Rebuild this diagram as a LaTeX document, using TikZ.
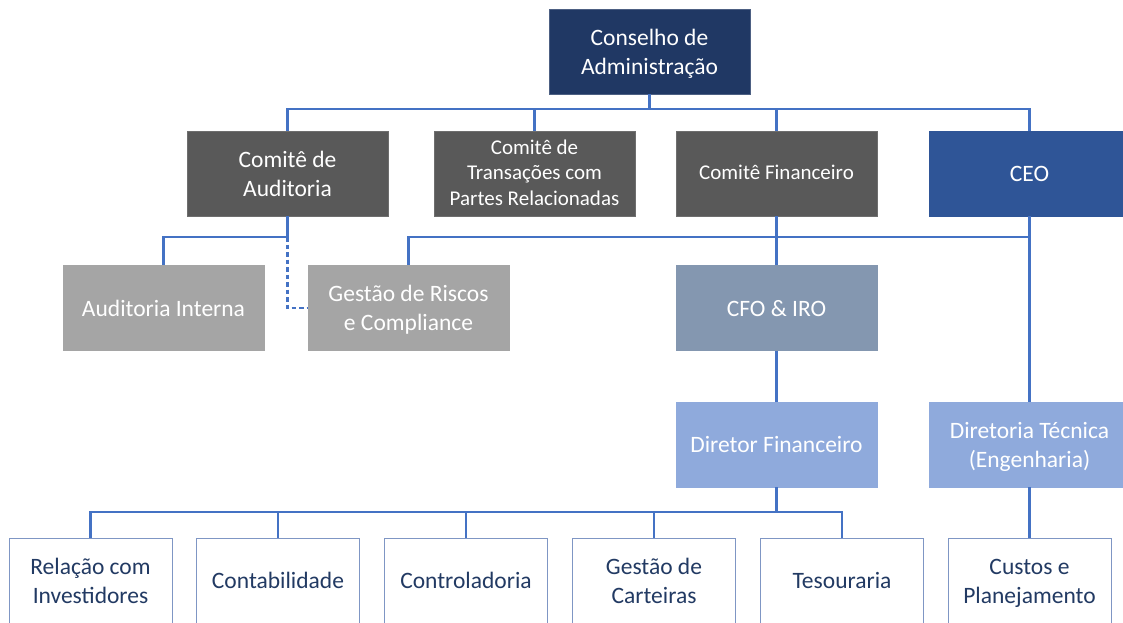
\documentclass[tikz,border=0pt]{standalone}
\usepackage{fontspec}
\setmainfont{Carlito}
\definecolor{cnavy}{HTML}{203864}
\definecolor{cgray}{HTML}{595959}
\definecolor{cgrayb}{HTML}{6E6E6E}
\definecolor{cceo}{HTML}{2F5597}
\definecolor{clight}{HTML}{A5A5A5}
\definecolor{ccfo}{HTML}{8497B0}
\definecolor{cdir}{HTML}{8FAADC}
\definecolor{cline}{HTML}{4472C4}
\definecolor{cbord}{HTML}{7F96C4}
\definecolor{ctext}{HTML}{223A63}
\newcommand{\bigf}{\fontsize{23.5}{29}\selectfont}
\newcommand{\smallf}{\fontsize{21}{25.5}\selectfont}
\newcommand{\tx}[2][-2.5pt]{\raisebox{#1}[\height][\depth]{\begin{tabular}{@{}c@{}}#2\end{tabular}}}
\tikzset{
  box/.style={rectangle, minimum width=201pt, minimum height=85pt, inner sep=0pt, text=white, font=\bigf},
  topbox/.style={box, fill=cnavy, draw=cnavy!80!white, line width=0.8pt},
  combox/.style={box, fill=cgray, draw=cgrayb, line width=0.8pt},
  ceobox/.style={box, fill=cceo, draw=cceo, line width=0.8pt},
  lightbox/.style={box, fill=clight, draw=clight, line width=0.8pt},
  cfobox/.style={box, fill=ccfo, draw=ccfo, line width=0.8pt},
  dirbox/.style={box, fill=cdir, draw=cdir, line width=0.8pt},
  leafbox/.style={box, minimum width=163pt, fill=white, draw=cbord, line width=1pt, text=ctext},
  conn/.style={draw=cline, line width=2.3pt},
  dconn/.style={draw=cline, line width=2.3pt, dash pattern=on 4.5pt off 3pt}
}
\begin{document}
\begin{tikzpicture}[x=1pt,y=-1pt]
\useasboundingbox[fill=white] (0,0) rectangle (1123,622);
% level 0
\node[topbox] (cons) at (649.5,51.5) {\tx{Conselho de\\Administração}};
% level 1
\node[combox] (aud) at (287.5,173.5) {\tx{Comitê de\\Auditoria}};
\node[combox, font=\smallf] (trans) at (534.5,173.5) {\tx[-1pt]{Comitê de\\Transações com\\Partes Relacionadas}};
\node[combox, font=\smallf] (fin) at (776.5,173.5) {\tx[-1.2pt]{Comitê Financeiro}};
\node[ceobox] (ceo) at (1029.5,173.5) {\tx{CEO}};
% level 2
\node[lightbox] (audint) at (163.5,308) {\tx{Auditoria Interna}};
\node[lightbox] (risk) at (408.5,308) {\tx{Gestão de Riscos\\e Compliance}};
\node[cfobox] (cfo) at (776.5,308) {\tx{CFO \& IRO}};
% level 3
\node[dirbox] (dirfin) at (776.5,444.5) {\tx{Diretor Financeiro}};
\node[dirbox] (dirtec) at (1029.5,444.5) {\tx{Diretoria Técnica\\(Engenharia)}};
% level 4
\node[leafbox] (rel) at (90.5,580.5) {\tx{Relação com\\Investidores}};
\node[leafbox] (cont) at (278,580.5) {\tx{Contabilidade}};
\node[leafbox] (ctrl) at (466,580.5) {\tx{Controladoria}};
\node[leafbox] (cart) at (654,580.5) {\tx{Gestão de\\Carteiras}};
\node[leafbox] (tes) at (842,580.5) {\tx{Tesouraria}};
\node[leafbox] (cust) at (1029.5,580.5) {\tx{Custos e\\Planejamento}};
% bus levels
\coordinate (busA) at (0,109);
\coordinate (busB) at (0,237);
\coordinate (busC) at (0,512);
% connectors level 0-1
\draw[conn] (cons.south) -- (cons.south |- busA);
\draw[conn] (aud.north) -- (aud.north |- busA) -- (ceo.north |- busA) -- (ceo.north);
\draw[conn] (trans.north) -- (trans.north |- busA);
\draw[conn] (fin.north) -- (fin.north |- busA);
% connectors level 1-2
\draw[conn] (aud.south) -- (aud.south |- busB) -- (audint.north |- busB) -- (audint.north);
\draw[dconn] (aud.south |- busB) |- (risk.west);
\draw[conn] (ceo.south) -- (ceo.south |- busB) -- (risk.north |- busB) -- (risk.north);
\draw[conn] (fin.south) -- (cfo.north);
\draw[conn] (ceo.south) -- (dirtec.north);
% level 2-3
\draw[conn] (cfo.south) -- (dirfin.north);
% level 3-4
\draw[conn] (dirfin.south) -- (dirfin.south |- busC);
\draw[conn] (rel.north) -- (rel.north |- busC) -- (tes.north |- busC) -- (tes.north);
\draw[conn] (cont.north) -- (cont.north |- busC);
\draw[conn] (ctrl.north) -- (ctrl.north |- busC);
\draw[conn] (cart.north) -- (cart.north |- busC);
\draw[conn] (dirtec.south) -- (cust.north);
\end{tikzpicture}
\end{document}
